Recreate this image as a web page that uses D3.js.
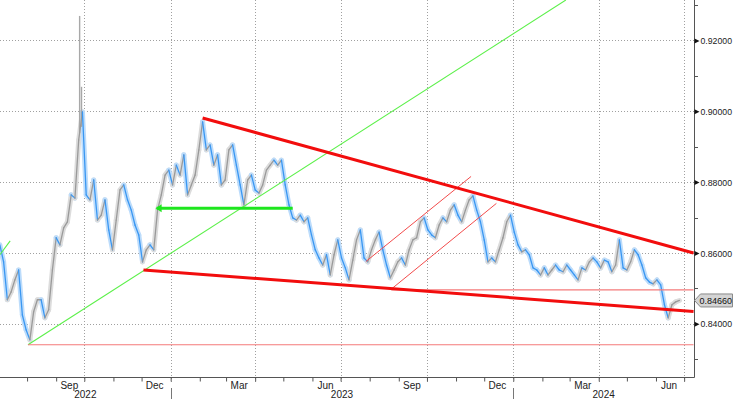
<!DOCTYPE html>
<html>
<head>
<meta charset="utf-8">
<title>EURGBP daily</title>
<style>
  body { margin: 0; background: #fff; }
  svg { display: block; font-family: "Liberation Sans", Arial, sans-serif; }
</style>
</head>
<body>
<svg id="chart" width="734" height="399"></svg>
<script src="https://d3js.org/d3.v7.min.js"></script>
<script>
// closes, one every 4 days starting 3 Jul 2022
var startDay = "2022-07-03", stepDays = 4;
var closes = [
  0.8623,0.8575,0.8468,0.8490,0.8524,0.8552,0.8425,0.8383,0.8355,0.8434,
  0.8468,0.8468,0.8417,0.8440,0.8552,0.8643,0.8623,0.8671,0.8688,0.8764,
  0.8755,0.8919,0.8998,0.8764,0.8750,0.8806,0.8693,0.8707,0.8750,0.8665,
  0.8609,0.8693,0.8778,0.8792,0.8750,0.8721,0.8679,0.8651,0.8575,0.8609,
  0.8623,0.8609,0.8721,0.8764,0.8820,0.8834,0.8792,0.8848,0.8820,0.8877,
  0.8764,0.8792,0.8820,0.8891,0.8970,0.8891,0.8905,0.8848,0.8877,0.8792,
  0.8806,0.8891,0.8905,0.8848,0.8792,0.8736,0.8806,0.8820,0.8778,0.8769,
  0.8792,0.8834,0.8848,0.8862,0.8848,0.8862,0.8792,0.8736,0.8699,0.8693,
  0.8707,0.8688,0.8699,0.8651,0.8609,0.8586,0.8566,0.8595,0.8538,0.8595,
  0.8637,0.8586,0.8558,0.8524,0.8580,0.8637,0.8665,0.8586,0.8575,0.8609,
  0.8637,0.8659,0.8609,0.8566,0.8530,0.8552,0.8575,0.8586,0.8566,0.8609,
  0.8637,0.8643,0.8688,0.8699,0.8665,0.8651,0.8643,0.8679,0.8699,0.8688,
  0.8721,0.8736,0.8707,0.8688,0.8721,0.8750,0.8761,0.8721,0.8688,0.8637,
  0.8575,0.8586,0.8575,0.8609,0.8643,0.8688,0.8707,0.8659,0.8623,0.8603,
  0.8609,0.8595,0.8558,0.8552,0.8538,0.8558,0.8538,0.8552,0.8566,0.8552,
  0.8547,0.8566,0.8552,0.8538,0.8524,0.8558,0.8552,0.8575,0.8586,0.8575,
  0.8558,0.8580,0.8575,0.8547,0.8566,0.8637,0.8558,0.8552,0.8575,0.8609,
  0.8595,0.8566,0.8530,0.8518,0.8513,0.8524,0.8510,0.8454,0.8417,0.8454,
  0.8462,0.8466
];
// the two tall wicks of late Sep 2022 [date, low, high]
var wicks = [["2022-09-26", 0.8939, 0.9269], ["2022-09-28", 0.8956, 0.9069]];
var lastPrice = 0.84660;

var yTicks = [0.84, 0.86, 0.88, 0.90, 0.92];
var yMinor = [0.83, 0.85, 0.87, 0.89, 0.91, 0.93];
var quarterLabels = [["2022-09-15","Sep"],["2022-12-15","Dec"],["2023-03-15","Mar"],["2023-06-15","Jun"],
                     ["2023-09-15","Sep"],["2023-12-15","Dec"],["2024-03-15","Mar"],["2024-06-15","Jun"]];
var years = ["2022", "2023", "2024"];

// drawn trend lines
var redThick   = [[["2023-02-04",0.8981],["2024-07-11",0.8600]],
                  [["2022-12-03",0.8552],["2024-07-11",0.8435]]];
var redThin    = [[["2022-08-02",0.8341],["2024-07-11",0.8341]],
                  [["2023-08-24",0.8496],["2024-07-11",0.8496]]];
var channel    = [[["2023-07-28",0.8576],["2023-11-17",0.8816]],
                  [["2023-08-24",0.8498],["2023-12-14",0.8740]]];
var greenThick = [["2022-12-17",0.8726],["2023-05-11",0.8726]];
var greenThin  = [[["2022-08-02",0.8341],["2024-02-26",0.9314]],
                  [["2022-07-03",0.8595],["2022-07-14",0.8634]]];

var parse = d3.utcParse("%Y-%m-%d");
var W = 694, H = 377;
var fmt = d3.format(".5f");

var x = d3.scaleUtc()
    .domain([new Date(Date.UTC(2022,6,3,4)), new Date(Date.UTC(2024,6,11,12))])
    .range([0, W]);
var y = d3.scaleLinear().domain([0.8250, 0.9314]).range([H, 0]);

var t0 = parse(startDay);
var data = closes.map(function(c, i) {
    return { date: d3.utcDay.offset(t0, i * stepDays), close: c };
});

var svg = d3.select("#chart");
svg.append("defs").append("clipPath").attr("id", "plot")
  .append("rect").attr("x", 0).attr("y", 0).attr("width", W).attr("height", H);

// grid
var grid = svg.append("g").attr("stroke", "#a0a0a0").attr("stroke-dasharray", "1,2");
grid.selectAll(".gy").data(yTicks).enter().append("line")
    .attr("x1", 0).attr("x2", W)
    .attr("y1", function(d) { return Math.round(y(d)) + 0.5; })
    .attr("y2", function(d) { return Math.round(y(d)) + 0.5; });
var quarters = d3.utcMonth.every(3).range(x.domain()[0], x.domain()[1]);
grid.selectAll(".gx").data(quarters).enter().append("line")
    .attr("y1", 0).attr("y2", H + 6)
    .attr("x1", function(d) { return Math.round(x(d)) + 0.5; })
    .attr("x2", function(d) { return Math.round(x(d)) + 0.5; });

var plot = svg.append("g").attr("clip-path", "url(#plot)");

// price series: segments coloured by direction, with a soft halo
var segs = d3.pairs(data);
function segLine(sel) {
    sel.attr("x1", function(p) { return x(p[0].date); })
       .attr("y1", function(p) { return y(p[0].close); })
       .attr("x2", function(p) { return x(p[1].date); })
       .attr("y2", function(p) { return y(p[1].close); })
       .attr("stroke-linecap", "round");
}
plot.append("g").selectAll("line").data(segs).enter().append("line")
    .call(segLine)
    .attr("stroke", function(p) { return p[1].close < p[0].close ? "#bcdcfb" : "#dcdcdc"; })
    .attr("stroke-width", 5);
plot.append("g").selectAll("line").data(wicks).enter().append("line")
    .attr("x1", function(d) { return x(parse(d[0])); })
    .attr("x2", function(d) { return x(parse(d[0])); })
    .attr("y1", function(d) { return y(d[1]); })
    .attr("y2", function(d) { return y(d[2]); })
    .attr("stroke", "#a8a8a8").attr("stroke-width", 1.4);
plot.append("g").selectAll("line").data(segs).enter().append("line")
    .call(segLine)
    .attr("stroke", function(p) { return p[1].close < p[0].close ? "#3a97f2" : "#9a9a9a"; })
    .attr("stroke-width", 1.3);

// trend lines
var tl = d3.line()
    .x(function(d) { return x(parse(d[0])); })
    .y(function(d) { return y(d[1]); });
plot.selectAll(".gthin").data(greenThin).enter().append("path")
    .attr("d", tl).attr("fill", "none").attr("stroke", "#5cf04a").attr("stroke-width", 1.1);
plot.selectAll(".rthin").data(redThin).enter().append("path")
    .attr("d", tl).attr("fill", "none").attr("stroke", "#f47a7a").attr("stroke-width", 1.2);
plot.selectAll(".chan").data(channel).enter().append("path")
    .attr("d", tl).attr("fill", "none").attr("stroke", "#f24b4b").attr("stroke-width", 1);
plot.append("path").attr("d", tl(greenThick)).attr("fill", "none")
    .attr("stroke", "#1ee61e").attr("stroke-width", 3);
var gx0 = x(parse(greenThick[0][0])), gy0 = y(greenThick[0][1]);
plot.append("path")
    .attr("d", "M" + (gx0 - 1) + "," + gy0 + "l6,-4l0,8z").attr("fill", "#1ee61e");
plot.selectAll(".rthick").data(redThick).enter().append("path")
    .attr("d", tl).attr("fill", "none").attr("stroke", "#f20d0d").attr("stroke-width", 3);

// axes
var axisColor = "#555";
svg.append("line").attr("x1", 0).attr("x2", W + 0.5).attr("y1", H + 0.5).attr("y2", H + 0.5)
    .attr("stroke", axisColor);
svg.append("line").attr("x1", W + 0.5).attr("x2", W + 0.5).attr("y1", 0).attr("y2", H + 0.5)
    .attr("stroke", axisColor);

var months = d3.utcMonth.range(x.domain()[0], x.domain()[1]);
var xAxis = svg.append("g").attr("transform", "translate(0," + (H + 0.5) + ")")
    .call(d3.axisBottom(x).tickValues(months).tickSize(4).tickFormat(""));
xAxis.select(".domain").remove();
xAxis.selectAll("line").attr("stroke", axisColor);

svg.append("g").selectAll("text").data(quarterLabels).enter().append("text")
    .attr("x", function(d) { return x(parse(d[0])); })
    .attr("y", 389)
    .attr("text-anchor", "middle").attr("font-size", 10).attr("fill", "#222")
    .text(function(d) { return d[1]; });

var yearStarts = [x.domain()[0], parse("2023-01-01"), parse("2024-01-01"), x.domain()[1]];
svg.append("g").selectAll("text").data(years).enter().append("text")
    .attr("x", function(d, i) { return (x(yearStarts[i]) + x(yearStarts[i + 1])) / 2; })
    .attr("y", 398)
    .attr("text-anchor", "middle").attr("font-size", 10).attr("fill", "#222")
    .text(function(d) { return d; });
svg.append("g").selectAll("line").data(yearStarts.slice(1, 3)).enter().append("line")
    .attr("x1", function(d) { return Math.round(x(d)) + 0.5; })
    .attr("x2", function(d) { return Math.round(x(d)) + 0.5; })
    .attr("y1", 388).attr("y2", 399).attr("stroke", "#777");

var yAxis = svg.append("g").attr("transform", "translate(" + (W + 0.5) + ",0)")
    .call(d3.axisRight(y).tickValues(yTicks).tickSize(0).tickPadding(6).tickFormat(fmt));
yAxis.select(".domain").remove();
yAxis.selectAll("text").attr("font-size", 9.5).attr("fill", "#1a1a1a")
    .attr("font-family", "Liberation Sans, Arial, sans-serif")
    .attr("textLength", 31.5).attr("lengthAdjust", "spacingAndGlyphs");
yAxis.selectAll(".tick").append("path").attr("d", "M0,-2.5L5,0L0,2.5Z").attr("fill", "#111");
svg.append("g").selectAll("line").data(yMinor).enter().append("line")
    .attr("x1", W).attr("x2", W + 4)
    .attr("y1", function(d) { return Math.round(y(d)) + 0.5; })
    .attr("y2", function(d) { return Math.round(y(d)) + 0.5; })
    .attr("stroke", axisColor);

// last price tag
var py = y(lastPrice);
svg.append("path")
    .attr("d", "M" + (W + 0.5) + "," + py + "l6,-6.5h32v13h-32z")
    .attr("fill", "#d4d4d4").attr("stroke", "#8a8a8a");
svg.append("text").attr("x", 732).attr("y", py + 3.3)
    .attr("text-anchor", "end").attr("font-size", 9).attr("fill", "#111")
    .text(fmt(lastPrice));
</script>
</body>
</html>
